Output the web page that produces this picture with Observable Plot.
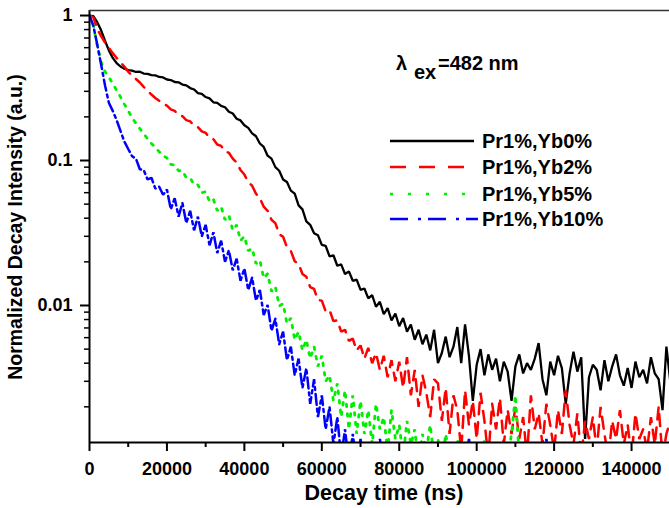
<!DOCTYPE html>
<html><head><meta charset="utf-8">
<script src="https://cdn.jsdelivr.net/npm/d3@7"></script>
<script src="https://cdn.jsdelivr.net/npm/@observablehq/plot@0.6"></script>
<style>
html,body{margin:0;padding:0;background:#fff;}
#chart{width:669px;height:508px;overflow:hidden;}
</style></head><body><div id="chart"></div>
<script>
// ---- data ----
const timeNs = d3.range(0, 151000, 1000); // sampling grid, ns
const seriesNames = ["Pr1%,Yb0%", "Pr1%,Yb2%", "Pr1%,Yb5%", "Pr1%,Yb10%"];
const seriesColors = ["#000000", "#ff0000", "#00ee00", "#0000ff"];

const yb0 = [1.00, 0.99, 0.90, 0.79, 0.67, 0.575, 0.51, 0.47, 0.445, 0.43,
 0.42, 0.417, 0.408, 0.41, 0.398, 0.396, 0.388, 0.387, 0.377, 0.374,
 0.362, 0.359, 0.348, 0.346, 0.334, 0.33, 0.316, 0.309, 0.292, 0.288,
 0.274, 0.268, 0.252, 0.25, 0.238, 0.233, 0.217, 0.211, 0.194, 0.189,
 0.175, 0.168, 0.154, 0.147, 0.131, 0.124, 0.108, 0.103, 0.09, 0.085,
 0.074, 0.071, 0.062, 0.059, 0.049, 0.046, 0.038, 0.036, 0.0315, 0.0305,
 0.0262, 0.0258, 0.0218, 0.0222, 0.0188, 0.0192, 0.0165, 0.0172, 0.0148, 0.0151,
 0.0128, 0.0131, 0.0112, 0.0118, 0.0098, 0.0106, 0.0087, 0.0096, 0.0079, 0.0088,
 0.0072, 0.0082, 0.0066, 0.0074, 0.0058, 0.0068, 0.0054, 0.0063, 0.0049, 0.0068,
 0.0040, 0.0047, 0.0061, 0.0044, 0.0052, 0.0071, 0.0040, 0.0074, 0.0045, 0.0022,
 0.0039, 0.0050, 0.0033, 0.0046, 0.0036, 0.0043, 0.0030, 0.0041, 0.0035, 0.0022,
 0.0038, 0.0046, 0.0034, 0.0040, 0.0036, 0.0043, 0.0055, 0.0031, 0.0024, 0.0041,
 0.0033, 0.0045, 0.0037, 0.0021, 0.0034, 0.0048, 0.0035, 0.0044, 0.0012, 0.0032,
 0.0039, 0.0036, 0.0026, 0.0042, 0.0030, 0.0038, 0.0046, 0.0033, 0.0028, 0.0037,
 0.0027, 0.0041, 0.0032, 0.0036, 0.0029, 0.0044, 0.0034, 0.0031, 0.0019, 0.0052,
 0.0030];

const yb2 = [1.00, 0.97, 0.81, 0.72, 0.65, 0.60, 0.55, 0.51, 0.475, 0.445,
 0.41, 0.385, 0.365, 0.345, 0.322, 0.302, 0.285, 0.27, 0.258, 0.247,
 0.239, 0.225, 0.22, 0.207, 0.202, 0.19, 0.186, 0.174, 0.17, 0.159,
 0.155, 0.144, 0.14, 0.129, 0.126, 0.116, 0.113, 0.103, 0.097, 0.086,
 0.080, 0.071, 0.067, 0.059, 0.055, 0.048, 0.045, 0.039, 0.037, 0.031,
 0.0298, 0.0252, 0.0238, 0.0202, 0.0194, 0.0165, 0.0158, 0.0134, 0.013, 0.0109,
 0.0108, 0.0091, 0.0093, 0.0078, 0.0079, 0.0066, 0.0068, 0.0057, 0.0059, 0.0049,
 0.0053, 0.0043, 0.0051, 0.0040, 0.0047, 0.0036, 0.0045, 0.0032, 0.0042, 0.0030,
 0.0041, 0.0027, 0.0044, 0.0024, 0.0036, 0.0020, 0.0033, 0.0025, 0.0017, 0.0031,
 0.0029, 0.0016, 0.0027, 0.0013, 0.0024, 0.0019, 0.0010, 0.0026, 0.0015, 0.0022,
 0.0012, 0.0025, 0.0016, 0.0009, 0.0021, 0.0014, 0.0023, 0.0011, 0.0019, 0.0013,
 0.0020, 0.0012, 0.0017, 0.0009, 0.0024, 0.0014, 0.0018, 0.0011, 0.0021, 0.0015,
 0.0010, 0.0019, 0.0013, 0.0026, 0.0015, 0.0011, 0.0018, 0.0009, 0.0016, 0.0012,
 0.0017, 0.0010, 0.0020, 0.0013, 0.0009, 0.0016, 0.0012, 0.0019, 0.0011, 0.0015,
 0.0009, 0.0018, 0.0012, 0.0014, 0.0010, 0.0017, 0.0011, 0.0020, 0.0009, 0.0013,
 0.0016];

const yb5 = [1.00, 0.85, 0.62, 0.48, 0.41, 0.375, 0.34, 0.305, 0.275, 0.245,
 0.22, 0.198, 0.18, 0.166, 0.153, 0.141, 0.131, 0.123, 0.115, 0.108,
 0.104, 0.094, 0.093, 0.085, 0.085, 0.076, 0.076, 0.068, 0.068, 0.060,
 0.061, 0.052, 0.054, 0.045, 0.048, 0.039, 0.042, 0.033, 0.036, 0.028,
 0.030, 0.0238, 0.0248, 0.0194, 0.0205, 0.0154, 0.0166, 0.0125, 0.0135, 0.0099,
 0.0103, 0.0075, 0.0082, 0.0058, 0.0066, 0.0049, 0.0058, 0.0043, 0.0052, 0.0038,
 0.0045, 0.0030, 0.0033, 0.0022, 0.0029, 0.0017, 0.0026, 0.0014, 0.0024, 0.0013,
 0.0022, 0.0013, 0.0019, 0.0011, 0.0021, 0.0014, 0.0017, 0.0010, 0.0019, 0.0012,
 0.0015, 0.0009, 0.0016, 0.0011, 0.0014, 0.0008, 0.0013, 0.0010, 0.0015, 0.0009,
 0.0012, 0.0008, 0.0013, 0.0009, 0.0008, 0.0012, 0.0008, 0.0009, 0.0011, 0.0008,
 0.0010, 0.0008, 0.0012, 0.0008, 0.0009, 0.0008, 0.0011, 0.0008, 0.0009, 0.0013,
 0.0024, 0.0009, 0.0008, 0.0011, 0.0008, 0.0008, 0.0009, 0.0008, 0.0008, 0.0010,
 0.0008];

const yb10 = [1.00, 0.85, 0.63, 0.46, 0.33, 0.25, 0.22, 0.19, 0.16, 0.135,
 0.12, 0.107, 0.103, 0.087, 0.086, 0.074, 0.076, 0.064, 0.066, 0.058,
 0.063, 0.046, 0.055, 0.041, 0.051, 0.037, 0.045, 0.033, 0.041, 0.030,
 0.036, 0.026, 0.032, 0.023, 0.028, 0.020, 0.024, 0.0175, 0.021, 0.0148,
 0.018, 0.0128, 0.0156, 0.0108, 0.0128, 0.0086, 0.0101, 0.0067, 0.0081, 0.0054,
 0.0066, 0.0042, 0.0052, 0.0033, 0.0043, 0.0027, 0.0037, 0.0021, 0.0031, 0.0017,
 0.0024, 0.0014, 0.0020, 0.0011, 0.0017, 0.0009, 0.0014, 0.0008, 0.0013, 0.0008,
 0.0012, 0.0008, 0.0011, 0.0008, 0.0008, 0.0012, 0.0008, 0.0008, 0.0011, 0.0008,
 0.0008, 0.0010, 0.0008, 0.0008, 0.0008, 0.0008, 0.0008, 0.0008, 0.0008, 0.0008,
 0.0008, 0.0008, 0.0008, 0.0008, 0.0008, 0.0008, 0.0008, 0.0008, 0.0012, 0.0008,
 0.0008, 0.0008, 0.0008, 0.0008, 0.0008, 0.0008, 0.0008, 0.0008, 0.0008, 0.0008,
 0.0008, 0.0008, 0.0008, 0.0008, 0.0008, 0.0008, 0.0008, 0.0008, 0.0012, 0.0008,
 0.0008];

const xTicks = [0, 20000, 40000, 60000, 80000, 100000, 120000, 140000];
const xMinorTicks = [10000, 30000, 50000, 70000, 90000, 110000, 130000];
const yTicks = [0.01, 0.1, 1];
const yTickLabels = ["0.01", "0.1", "1"];
const yMinorTicks = [0.002, 0.003, 0.004, 0.005, 0.006, 0.007, 0.008, 0.009,
  0.02, 0.03, 0.04, 0.05, 0.06, 0.07, 0.08, 0.09,
  0.2, 0.3, 0.4, 0.5, 0.6, 0.7, 0.8, 0.9];
const xDomain = [0, 149800];
const yDomain = [0.001135, 1.083];
const xTitle = "Decay time (ns)";
const yTitle = "Normalized Decay Intensity (a.u.)";

// ---- styles ----
const FONT = "'Liberation Sans', Arial, Helvetica, sans-serif";
const lineDash = [null, "12,8", "2.6,7", "11,4,3,4"];
const lineWidth = [2.3, 2.5, 2.8, 2.5];
const legendDash = [null, "16,13", "3,15", "18,10,3,7"];

const seriesData = [yb0, yb2, yb5, yb10];
const rows = [];
seriesData.forEach((arr, s) => arr.forEach((v, i) => rows.push({t: timeNs[i], v, s: seriesNames[s]})));

const chart = Plot.plot({
  width: 669,
  height: 508,
  marginLeft: 89,
  marginRight: 0,
  marginTop: 10,
  marginBottom: 66,
  style: {fontFamily: FONT, fontWeight: "bold", color: "#000", background: "#fff", overflow: "visible"},
  x: {type: "linear", domain: xDomain},
  y: {type: "log", domain: yDomain},
  marks: [
    ...seriesNames.map((name, k) => Plot.line(rows.filter(d => d.s === name), {
      x: "t", y: "v", stroke: seriesColors[k], strokeWidth: lineWidth[k],
      strokeDasharray: lineDash[k], strokeLinejoin: "miter", clip: true
    })),
    Plot.axisX({ticks: xTicks, tickSize: 9, tickPadding: 11, strokeWidth: 2,
      tickFormat: d => String(d), fontSize: 18, fontWeight: "bold", label: null}),
    Plot.axisX({ticks: xMinorTicks, tickSize: 5, strokeWidth: 2, tickFormat: () => "", label: null}),
    Plot.axisY({ticks: yTicks, tickSize: 9, tickPadding: 8, strokeWidth: 2,
      tickFormat: d => yTickLabels[yTicks.indexOf(d)], fontSize: 18, fontWeight: "bold", label: null}),
    Plot.axisY({ticks: yMinorTicks, tickSize: 5, strokeWidth: 1.5, tickFormat: () => "", label: null}),
    Plot.ruleX([xDomain[0]], {strokeWidth: 2}),
    Plot.ruleY([yDomain[0]], {strokeWidth: 2}),
    Plot.ruleY([yDomain[1]], {strokeWidth: 1.6, stroke: "#333"})
  ]
});
document.getElementById("chart").appendChild(chart);

// ---- annotations, legend, titles ----
const svg = d3.select(chart);
const g = svg.append("g").attr("font-family", FONT).attr("font-weight", "bold")
  .attr("fill", "#000").attr("text-anchor", "start");

const legendY = [141, 167, 194, 219];
const legendEnd = [474, 466, 467, 478];
seriesNames.forEach((name, k) => {
  g.append("line").attr("x1", 390).attr("x2", legendEnd[k])
    .attr("y1", legendY[k]).attr("y2", legendY[k])
    .attr("stroke", seriesColors[k]).attr("stroke-width", 2.6)
    .attr("stroke-dasharray", legendDash[k]);
  g.append("text").attr("x", 482).attr("y", legendY[k]).attr("dy", "0.35em")
    .attr("font-size", 20).text(name);
});

const lam = g.append("text").attr("y", 70).attr("font-size", 20);
lam.append("tspan").attr("x", 396).text("λ");
lam.append("tspan").attr("x", 414).attr("dy", 9).text("ex");
lam.append("tspan").attr("x", 438).attr("dy", -9).text("=482 nm");

g.append("text").attr("x", 384).attr("y", 500).attr("text-anchor", "middle")
  .attr("font-size", 21.5).text(xTitle);
g.append("text").attr("transform", "translate(22,227) rotate(-90)")
  .attr("text-anchor", "middle").attr("font-size", 19.5).text(yTitle);
</script>
</body></html>
